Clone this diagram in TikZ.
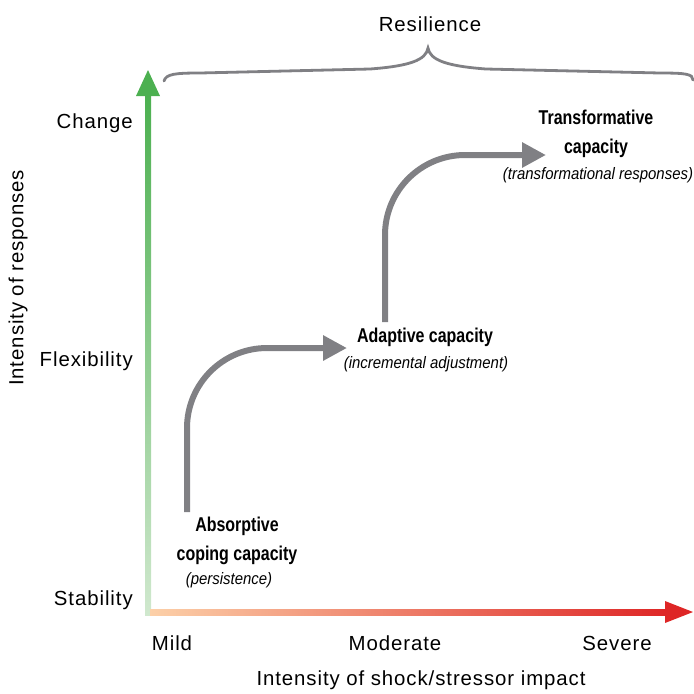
\documentclass[tikz,border=0pt]{standalone}
\usepackage{fontspec}
\setmainfont{Liberation Sans}[
  UprightFeatures={LetterSpace=4.5},
  BoldFeatures={FakeStretch=0.8},
  ItalicFeatures={FakeStretch=0.9}]
\usetikzlibrary{arrows.meta}

\definecolor{flowgray}{RGB}{128,128,132}
\definecolor{greentop}{RGB}{76,176,80}
\definecolor{greenlow}{RGB}{208,232,206}
\definecolor{peach}{RGB}{252,208,168}
\definecolor{axisred}{RGB}{222,38,38}

\tikzset{
  lbl/.style={font=\fontsize{14.5}{17}\selectfont, inner sep=0pt},
  capbox/.style={font=\fontsize{14.2}{20.3}\selectfont\bfseries, align=center, inner sep=0pt},
  subbox/.style={font=\fontsize{11.8}{14}\selectfont\itshape, inner sep=0pt},
  flow/.style={flowgray, line width=0.15cm, rounded corners=2cm,
    -{Triangle[length=0.6cm,width=0.6cm]}},
}

\begin{document}
\begin{tikzpicture}[x=0.025cm,y=-0.025cm]
\useasboundingbox (0,0) rectangle (694,693);

% axes
\shade[top color=greentop, bottom color=greenlow] (145,95) rectangle (151,615);
\fill[greentop] (136,96) -- (148,70) -- (160,96) -- cycle;
\shade[left color=peach, right color=axisred] (150,609) rectangle (667,615);
\fill[axisred] (665,601) -- (693,612) -- (665,623) -- cycle;

% axis labels
\node[lbl, anchor=east] (change) at (133,123) {Change};
\node[lbl, anchor=east] (flex) at (133,361) {Flexibility};
\node[lbl, anchor=east] (stab) at (133,600) {Stability};
\node[lbl] (mild) at (172,643) {Mild};
\node[lbl] (moderate) at (395,643) {Moderate};
\node[lbl] (severe) at (617,643) {Severe};
\node[lbl] (xtitle) at (421,680) {Intensity of shock/stressor impact};
\node[lbl, rotate=90] (ytitle) at (18,278) {Intensity of responses};

% resilience brace
\node[lbl] (resil) at (430,24) {Resilience};
\draw[flowgray, line width=0.07cm, line cap=round]
  (164,81) .. controls (166,74) and (175,73) .. (200,73)
  -- (370,69) .. controls (410,66) and (426,60) .. (428,48)
  .. controls (430,60) and (446,66) .. (486,69)
  -- (660,73) .. controls (686,73) and (693,74) .. (693,80);

% capacities
\node[capbox] (absorb) at (237,541) {Absorptive\\coping capacity};
\node[subbox] (absorbsub) at (229,580) {(persistence)};
\node[capbox] (adapt) at (425,337) {Adaptive capacity};
\node[subbox] (adaptsub) at (426,364) {(incremental adjustment)};
\node[capbox] (transf) at (596,134) {Transformative\\capacity};
\node[subbox] (transfsub) at (598,175) {(transformational responses)};

\coordinate (s1) at (187,512);
\coordinate (e1) at (347,348);
\coordinate (s2) at (385,322);
\coordinate (e2) at (546,155);
\draw[flow] (s1) |- (e1);
\draw[flow] (s2) |- (e2);
\end{tikzpicture}
\end{document}
